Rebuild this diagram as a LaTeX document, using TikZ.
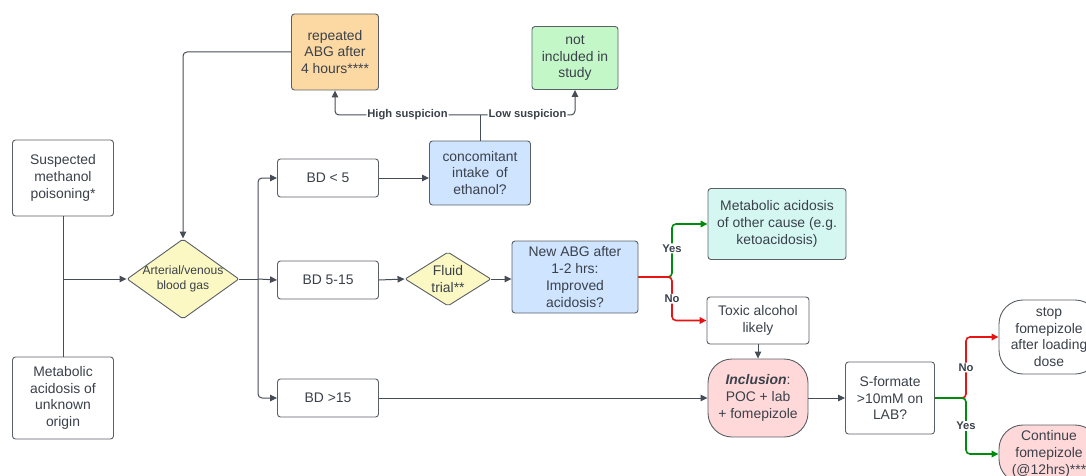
\documentclass[tikz,border=0pt]{standalone}
\usepackage{fontspec}
\setmainfont{Liberation Sans}
\usetikzlibrary{arrows.meta,shapes.geometric}
\definecolor{txt}{HTML}{3A414A}
\definecolor{bord}{HTML}{5A5F66}
\definecolor{conn}{HTML}{474D56}
\definecolor{orangef}{HTML}{FCD9A3}
\definecolor{greenf}{HTML}{C3F7C8}
\definecolor{bluef}{HTML}{CFE4FF}
\definecolor{yellowf}{HTML}{FBF8C4}
\definecolor{cyanf}{HTML}{D5F7F2}
\definecolor{pinkf}{HTML}{FFD9D9}
\definecolor{redc}{HTML}{E81313}
\definecolor{greenc}{HTML}{008A0E}
\tikzset{
  box/.style={draw=bord, line width=0.9pt, rounded corners=3pt, fill=white, text=txt,
    align=center, inner sep=0pt, font=\fontsize{13.9}{16.7}\selectfont},
  dia/.style={draw=bord, line width=0.9pt, shape=diamond, fill=yellowf, inner sep=0pt,
    rounded corners=2pt},
  conline/.style={draw=conn, line width=1pt, rounded corners=4pt},
  arr/.style={-{Triangle[length=7pt,width=6.5pt]}},
  redline/.style={draw=redc, line width=1.6pt, rounded corners=4pt},
  greenline/.style={draw=greenc, line width=1.6pt, rounded corners=4pt},
  lab/.style={fill=white, text=txt, inner sep=1pt, font=\bfseries\fontsize{11.2}{13}\selectfont}
}
\begin{document}
\begin{tikzpicture}[x=1pt,y=-1pt]
\useasboundingbox (0,0) rectangle (1086,476);
% nodes
\node[box, minimum width=101pt, minimum height=76pt] (susp) at (63,178) {Suspected\\methanol\\poisoning*};
\node[box, minimum width=101pt, minimum height=82pt] (meta) at (63,398) {Metabolic\\acidosis of\\unknown\\origin};
\node[dia, minimum width=112pt, minimum height=80pt,
  label={[text=txt, align=center, font=\fontsize{12.1}{15.6}\selectfont]center:Arterial/venous\\blood gas}] (abg) at (183,279) {};
\node[box, fill=orangef, minimum width=87pt, minimum height=76pt] (rep) at (335,52) {repeated\\ABG after\\4 hours****};
\node[box, fill=greenf, minimum width=86pt, minimum height=63pt] (notinc) at (575,58) {not\\included in\\study};
\node[box, minimum width=101pt, minimum height=38pt] (bda) at (328,178) {BD < 5};
\node[box, fill=bluef, minimum width=101pt, minimum height=64pt] (conc) at (480,173) {concomitant\\intake\enspace of\\ethanol?};
\node[box, minimum width=101pt, minimum height=38pt] (bdb) at (328,280) {BD 5-15};
\node[dia, minimum width=86pt, minimum height=54pt,
  label={[text=txt, align=center, font=\fontsize{13.9}{16.7}\selectfont]center:Fluid\\trial**}] (fluid) at (448,279) {};
\node[box, fill=bluef, minimum width=126pt, minimum height=72pt] (newabg) at (575,277) {New ABG after\\1-2 hrs:\\Improved\\acidosis?};
\node[box, fill=cyanf, minimum width=138pt, minimum height=71pt] (other) at (777,224) {Metabolic acidosis\\of other cause (e.g.\\ketoacidosis)};
\node[box, minimum width=102pt, minimum height=47pt] (toxic) at (758,320.5) {Toxic alcohol\\likely};
\node[box, fill=pinkf, rounded corners=24pt, minimum width=100pt, minimum height=78pt] (incl) at (758,398) {\textbf{\textit{Inclusion}}:\\POC + lab\\+ fomepizole};
\node[box, minimum width=101pt, minimum height=38pt] (bdc) at (328,398) {BD >15};
\node[box, minimum width=89pt, minimum height=72pt] (sform) at (890,398) {S-formate\\>10mM on\\LAB?};
\node[box, rounded corners=24pt, minimum width=100pt, minimum height=74pt] (stop) at (1049,337) {stop\\fomepizole\\after loading\\dose};
\node[box, fill=pinkf, rounded corners=24pt, minimum width=100pt, minimum height=58pt] (cont) at (1049,454) {Continue\\fomepizole\\(@12hrs)***};
% coordinates
\coordinate (jl) at (63,279);
\coordinate (bus) at (258,279);
\coordinate (cs) at (480,115);
\coordinate (ns) at (672,277);
\coordinate (ss) at (966,398);
% connectors
\draw[conline] (susp.south) -- (jl);
\draw[conline] (meta.north) -- (jl);
\draw[conline, arr] (jl) -- (abg.west);
\draw[conline, arr] (rep.west) -| (abg.north);
\draw[conline] (abg.east) -- (bus);
\draw[conline, arr] (bus) |- (bda.west);
\draw[conline, arr] (bus) -- (bdb.west);
\draw[conline, arr] (bus) |- (bdc.west);
\draw[conline, arr] (bda.east) -- (conc.west |- bda.east);
\draw[conline] (conc.north) -- (cs);
\draw[conline, arr] (cs) -| node[lab, pos=0.25] {High suspicion} (rep.south);
\draw[conline, arr] (cs) -| node[lab, pos=0.25] {Low suspicion} (notinc.south);
\draw[conline, arr] (bdb.east) -- (fluid.west);
\draw[conline, arr] (fluid.east) -- (newabg.west |- fluid.east);
\draw[greenline, arr] (newabg.east |- ns) -- (ns) |- node[lab, pos=0.27] {Yes} (other.west);
\draw[redline, arr] (newabg.east |- ns) -- (ns) |- node[lab, pos=0.25] {No} (toxic.west);
\draw[conline, arr] (toxic.south) -- (incl.north);
\draw[conline, arr] (bdc.east) -- (incl.west);
\draw[conline, arr] (incl.east) -- (sform.west);
\draw[redline, arr] (sform.east) -- (ss) |- node[lab, pos=0.25] {No} (stop.west);
\draw[greenline, arr] (sform.east) -- (ss) |- node[lab, pos=0.25] {Yes} (cont.west);
\end{tikzpicture}
\end{document}
